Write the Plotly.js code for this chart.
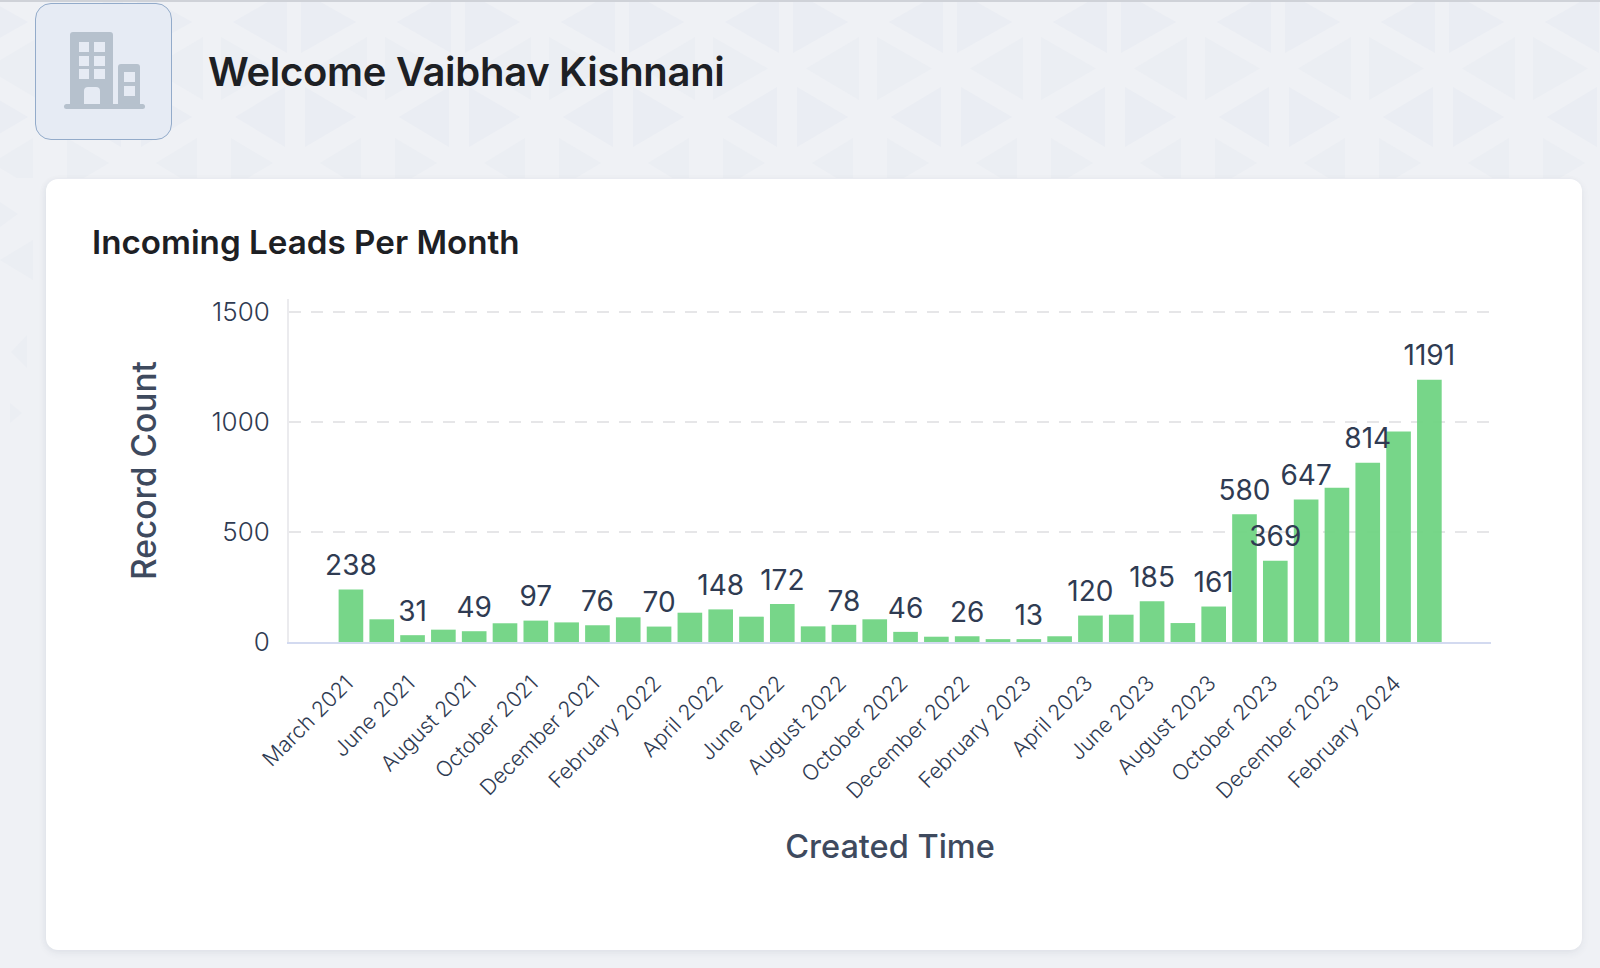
<!DOCTYPE html>
<html><head><meta charset="utf-8">
<script src="https://cdn.plot.ly/plotly-3.0.1.min.js"></script>
<style>
html,body{margin:0;padding:0;width:1600px;height:968px;overflow:hidden;background:#eff1f5;font-family:Inter,"Noto Sans",sans-serif}
#bg{position:absolute;left:0;top:0}
#topline{position:absolute;left:0;top:0;width:1600px;height:2px;background:#cfd2d8}
#card{position:absolute;left:46px;top:179px;width:1536px;height:771px;background:#fff;border-radius:12px;box-shadow:0 3px 8px rgba(40,50,80,.07),-2px 0 6px rgba(40,50,80,.03)}
#icon{position:absolute;left:35px;top:3px;width:137px;height:137px;background:#e6ebf4;border:1px solid #93abca;border-radius:16px;box-sizing:border-box}
#iconart{position:absolute;left:0;top:0}
#welcome{position:absolute;left:208px;top:45px;font-size:40px;font-weight:600;line-height:54px;color:#1d2024;white-space:nowrap;letter-spacing:-.3px}
#chart{position:absolute;left:0;top:0;width:1600px;height:968px}
</style></head><body>
<svg id="bg" width="1600" height="968" xmlns="http://www.w3.org/2000/svg">
<defs><clipPath id="band"><rect x="0" y="2" width="1600" height="176"/></clipPath></defs>
<g id="tris" clip-path="url(#band)"></g>
<g fill="#ebeef3">
<path d="M0 202L18 214L0 227Z"/>
<path d="M0 260L33 240V280Z"/>
<path d="M11 352L27 335V368Z"/>
<path d="M10 403L22 413L10 423Z"/>
</g>
</svg>
<div id="topline"></div>
<div id="card"></div>
<div id="icon"></div>
<svg id="iconart" width="200" height="150" xmlns="http://www.w3.org/2000/svg">
<path fill="#b6c1cd" fill-rule="evenodd" d="M70 35a3 3 0 0 1 3-3h37a3 3 0 0 1 3 3v69H70ZM79 42v10h10v-10ZM94 42v10h11v-10ZM79 56v10h10v-10ZM94 56v10h11v-10ZM79 69v10h10v-10ZM94 69v10h11v-10ZM84 104h16v-13a4 4 0 0 0-4-4h-8a4 4 0 0 0-4 4Z"/>
<path fill="#b6c1cd" fill-rule="evenodd" d="M118 67a3 3 0 0 1 3-3h16a3 3 0 0 1 3 3v37h-22ZM124 72v10h11v-10ZM124 86v10h11v-10Z"/>
<rect x="64" y="104" width="81" height="5" rx="2.5" fill="#b6c1cd"/>
</svg>
<div id="welcome">Welcome Vaibhav Kishnani</div>
<div id="chart"></div>
<script>
const categories = ["March 2021","May 2021","June 2021","July 2021","August 2021","September 2021","October 2021","November 2021","December 2021","January 2022","February 2022","March 2022","April 2022","May 2022","June 2022","July 2022","August 2022","September 2022","October 2022","November 2022","December 2022","January 2023","February 2023","March 2023","April 2023","May 2023","June 2023","July 2023","August 2023","September 2023","October 2023","November 2023","December 2023","January 2024","February 2024","March 2024"];
const recordCount = [238,103,31,56,49,85,97,89,76,112,70,133,148,115,172,71,78,103,46,24,26,13,13,26,120,124,185,86,161,580,369,647,700,814,955,1191];
const labelledCategories = ["March 2021","June 2021","August 2021","October 2021","December 2021","February 2022","April 2022","June 2022","August 2022","October 2022","December 2022","February 2023","April 2023","June 2023","August 2023","September 2023","October 2023","November 2023","January 2024","March 2024"];
const labelledValues = [238,31,49,97,76,70,148,172,78,46,26,13,120,185,161,580,369,647,814,1191];
const tickLabels = ["March 2021","June 2021","August 2021","October 2021","December 2021","February 2022","April 2022","June 2022","August 2022","October 2022","December 2022","February 2023","April 2023","June 2023","August 2023","October 2023","December 2023","February 2024"];
const ink = "#2f3b52", font = 'Inter, "Noto Sans", sans-serif';

// page backdrop: rows of pale triangles [apex x, base x, centre y, half height, colour]
const backdropRows = [
 [725,779,22,31,"#eaedf3"],[848,793,22,31,"#eaedf3"],
 [806,859,68.5,31.5,"#ebeef3"],[932,877,68.5,31.5,"#ebeef3"],
 [727,777,117,30,"#eaedf3"],[848,797,117,30,"#eaedf3"],
 [765,723,163,25,"#ebeef3"],[812,853,163,25,"#ebeef3"]
];
const trisGroup = document.getElementById("tris");
backdropRows.forEach(([apex,base,cy,h,c])=>{
 for(let k=-5;k<=6;k++){
  const p=document.createElementNS("http://www.w3.org/2000/svg","path");
  p.setAttribute("d",`M${apex+k*164} ${cy}L${base+k*164} ${cy-h}V${cy+h}Z`);
  p.setAttribute("fill",c);
  trisGroup.appendChild(p);
 }
});

Plotly.newPlot("chart",[
 {type:"bar",x:categories,y:recordCount,marker:{color:"#6fd382",opacity:.94,line:{width:0}},hoverinfo:"x+y"},
 {type:"scatter",mode:"markers+text",x:labelledCategories,y:labelledValues,text:labelledValues.map(String),textposition:"top center",
  textfont:{family:font,size:28,color:ink},marker:{size:10,opacity:0},cliponaxis:false,hoverinfo:"skip"}
],{
 width:1600,height:968,paper_bgcolor:"rgba(0,0,0,0)",plot_bgcolor:"rgba(0,0,0,0)",showlegend:false,
 margin:{l:289,r:109,t:299,b:326,autoexpand:false},bargap:.2,
 title:{text:"Incoming Leads Per Month",x:92/1600,xanchor:"left",y:1-242.5/968,yanchor:"middle",font:{family:font,size:33.2,weight:600,color:"#1d2024"}},
 xaxis:{type:"category",categoryorder:"array",categoryarray:categories,range:[-2.01,37],tickmode:"array",tickvals:tickLabels,ticktext:tickLabels,tickangle:-45,
  tickfont:{family:font,size:21.5,weight:300,color:ink},ticks:"",ticklabelstandoff:18,ticklabelshift:-4,showgrid:false,zeroline:false,showline:true,linecolor:"#d3daf0",linewidth:2,automargin:false,
  title:{text:"Created Time",standoff:33,font:{family:font,size:32.5,weight:450,color:"#3e4a5e"}}},
 yaxis:{range:[0,1557],tickmode:"array",tickvals:[0,500,1000,1500],ticktext:["0","500","1000","1500"],tickfont:{family:font,size:26,weight:300,color:ink},ticks:"",ticklen:0,ticklabelstandoff:12,
  showgrid:true,gridcolor:"#e6e6e8",gridwidth:2,griddash:"12px,10px",zeroline:false,showline:true,linecolor:"#ebebee",linewidth:2,automargin:false,
  title:{text:"Record Count",standoff:45,font:{family:font,size:33.5,weight:450,color:"#3e4a5e"}}}
},{displayModeBar:false});
</script>
</body></html>
